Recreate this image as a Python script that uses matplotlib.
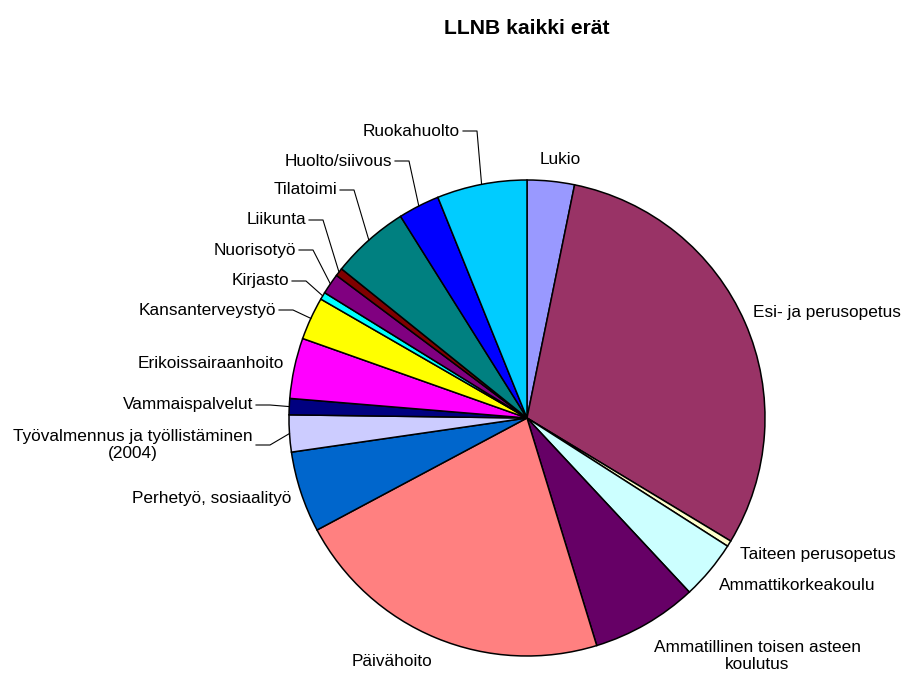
import matplotlib
matplotlib.use('Agg')
import numpy as np
import matplotlib.pyplot as plt

plt.rcParams['font.family'] = ['Liberation Sans', 'DejaVu Sans']

TITLE = 'LLNB kaikki erät'

# slices clockwise from 12 o'clock (share, %)
labels = ['Lukio', 'Esi- ja perusopetus', 'Taiteen perusopetus', 'Ammattikorkeakoulu',
          'Ammatillinen toisen asteen\nkoulutus', 'Päivähoito', 'Perhetyö, sosiaalityö',
          'Työvalmennus ja työllistäminen\n(2004)', 'Vammaispalvelut', 'Erikoissairaanhoito',
          'Kansanterveystyö', 'Kirjasto', 'Nuorisotyö', 'Liikunta', 'Tilatoimi',
          'Huolto/siivous', 'Ruokahuolto']
values = [3.2, 30.4, 0.4, 4.0, 7.2, 21.9, 5.5, 2.5, 1.1, 4.1, 2.9, 0.5, 1.4, 0.55, 5.3, 2.8, 6.1]
colors = ['#9999FF', '#993366', '#FFFFCC', '#CCFFFF', '#660066', '#FF8080', '#0066CC',
          '#CCCCFF', '#000080', '#FF00FF', '#FFFF00', '#00FFFF', '#800080', '#800000',
          '#008080', '#0000FF', '#00CCFF']

# label layout in pixels: (x, y, ha, leader line?)
label_pos = [(560, 160, 'center', False), (753, 312, 'left', False), (740, 554, 'left', False),
             (719, 585, 'left', False), (757, 656, 'center', False), (392, 662, 'center', False),
             (291, 499, 'right', False), (253, 445, 'right', True), (253, 405, 'right', True),
             (284, 364, 'right', False), (276, 310, 'right', True), (289, 281, 'right', True),
             (296, 250, 'right', True), (306, 220, 'right', True), (337, 190, 'right', True),
             (392, 161, 'right', True), (460, 131, 'right', True)]

W, H = 905, 675
CX, CY, R = 527, 418, 238


def px(x, y):
    return (x - CX) / R, (CY - y) / R


fig = plt.figure(figsize=(W / 100, H / 100), dpi=100)
ax = fig.add_axes([0, 0, 1, 1])
wedges, _ = ax.pie(values, colors=colors, startangle=90, counterclock=False,
                   wedgeprops=dict(edgecolor='black', linewidth=1.1))
ax.set_xlim(-CX / R, (W - CX) / R)
ax.set_ylim(-(H - CY) / R, CY / R)
ax.set_aspect('auto')
ax.axis('off')

for w, lab, (x, y, ha, leader) in zip(wedges, labels, label_pos):
    tx, ty = px(x, y)
    ax.text(tx, ty, lab, ha=ha, va='center', multialignment='center',
            fontsize=12.4, linespacing=1.1)
    if leader:
        mid = np.deg2rad((w.theta1 + w.theta2) / 2)
        ex, ey = px(x + 17, y)
        sx, sy = px(x + 3, y)
        ax.plot([sx, ex, np.cos(mid)], [sy, ey, np.sin(mid)], color='black', lw=0.8)

fig.text(527 / W, 1 - 28 / H, TITLE, ha='center', va='center', fontsize=15.2, fontweight='bold')

fig.savefig('out.png', dpi=100)
